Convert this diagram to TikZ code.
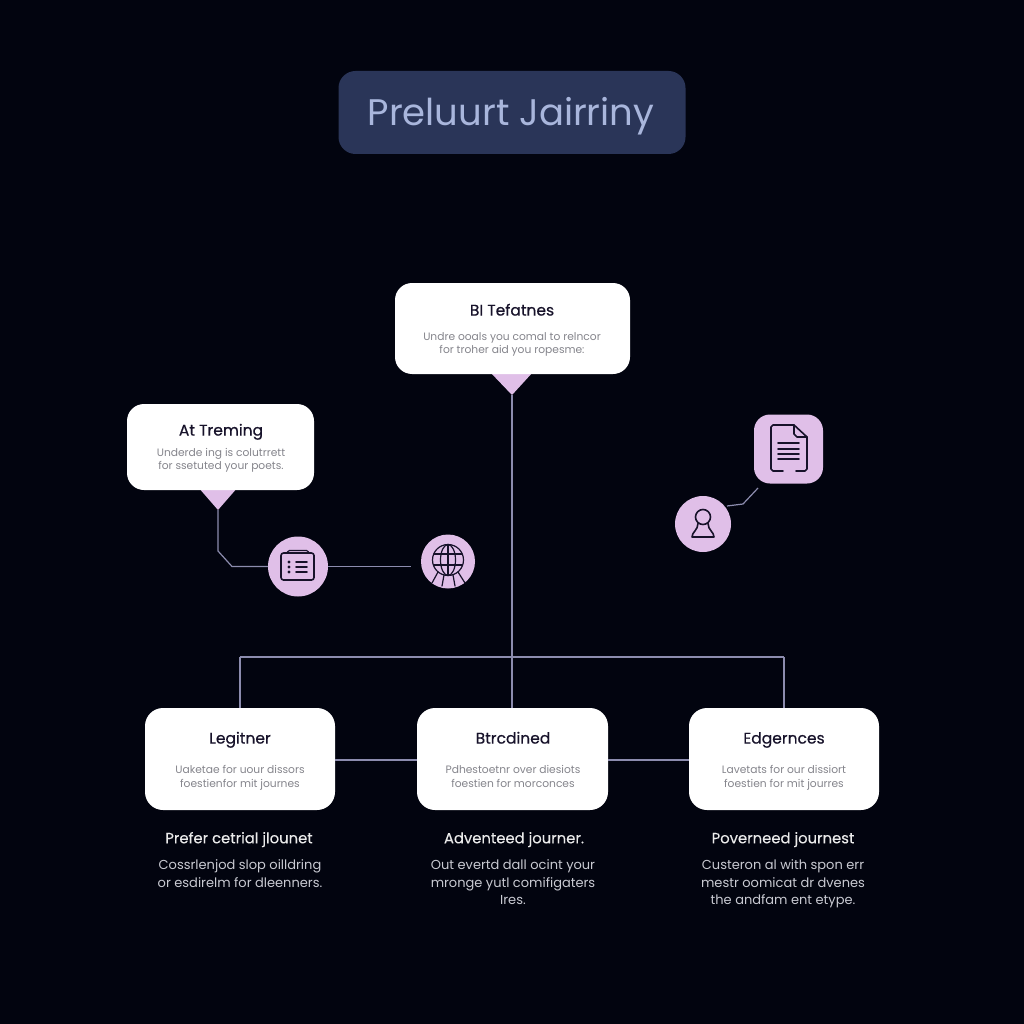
\documentclass[tikz,border=0pt]{standalone}
\usepackage{fontspec}
\setmainfont{Poppins}
\newfontfamily\medf[FakeBold=0.45]{Poppins}
\newfontfamily\capf[FakeBold=0.15]{Poppins}
\definecolor{bgc}{HTML}{02040F}
\definecolor{titlebg}{HTML}{2A3558}
\definecolor{titlefg}{HTML}{A9B6DC}
\definecolor{pinkc}{HTML}{E0BFE8}
\definecolor{linec}{HTML}{8C8CAE}
\definecolor{inkc}{HTML}{17122A}
\definecolor{subc}{HTML}{85858C}
\definecolor{capc}{HTML}{C9CAD2}
\tikzset{
  strutted/.style={execute at begin node={\strut},execute at end node={\strut}},
  titlebox/.style={rounded corners=17pt,fill=titlebg,draw=none,inner sep=0pt,outer sep=0pt,minimum width=347pt,minimum height=83pt},
  titletext/.style={strutted,text=titlefg,inner sep=0pt,font=\fontsize{37}{40}\selectfont},
  card/.style={rounded corners=17pt,fill=white,draw=none,inner sep=0pt,outer sep=0pt},
  smallcard/.style={card,rounded corners=18pt,minimum width=190pt,minimum height=102pt},
  headt/.style={strutted,text=inkc,font=\medf\fontsize{15.5}{18}\selectfont,inner sep=0pt},
  subt/.style={strutted,text=subc,font=\fontsize{10.7}{13.5}\selectfont,align=center,inner sep=0pt},
  caph/.style={strutted,text=white!92!black,font=\capf\fontsize{14.8}{18}\selectfont,inner sep=0pt},
  capt/.style={strutted,text=capc,font=\fontsize{13}{17.5}\selectfont,align=center,inner sep=0pt},
  link/.style={draw=linec,line width=1.2pt},
  tipmark/.style={fill=pinkc,draw=none},
  disc/.style={circle,fill=pinkc,draw=none,inner sep=0pt,outer sep=0pt},
  glyph/.style={draw=inkc,line width=1.6pt,line join=round,line cap=round},
}
\begin{document}
\begin{tikzpicture}[x=1pt,y=-1pt]
\useasboundingbox (0,0) rectangle (1024,1024);
\fill[bgc] (0,0) rectangle (1024,1024);

% free coordinates
\coordinate (toptip) at (512,395);
\coordinate (attip) at (218,510);
\coordinate (busl) at (240,657);
\coordinate (busr) at (784,657);
\coordinate (elbowa) at (218,551);
\coordinate (elbowb) at (232,566.5);
\coordinate (freeend) at (411,566.5);
\coordinate (pa) at (727,506);
\coordinate (pb) at (743,504);
\coordinate (pc) at (758,488);

% title
\node[titlebox] (title) at (512,112.5) {};
\node[titletext] (titlet) at (511,117) {Preluurt Jairriny};

% top card
\fill[tipmark] (490,372) -- (533,372) -- (toptip) -- cycle;
\node[card,minimum width=235pt,minimum height=91pt] (top) at (512.5,328.5) {};
\node[headt] (toph) at (512,312) {BI Tefatnes};
\node[subt] (tops) at (512,345) {Undre ooals you comal to relncor\\for troher aid you ropesme:};

% at card
\fill[tipmark] (198,487) -- (238,487) -- (attip) -- cycle;
\node[card,minimum width=187pt,minimum height=86pt] (at) at (220.5,447) {};
\node[headt] (ath) at (221,432) {At Treming};
\node[subt] (ats) at (221,461) {Underde ing is colutrrett\\for ssetuted your poets.};

% discs
\node[disc,minimum size=60pt] (dlist) at (298,566.5) {};
\node[disc,minimum size=54pt] (dglobe) at (448,561.5) {};
\node[disc,minimum size=56pt] (dperson) at (703,524) {};
\node[fill=pinkc,rounded corners=16pt,inner sep=0pt,outer sep=0pt,minimum size=69pt] (ddoc) at (788.5,449) {};

% list icon
\draw[glyph,rounded corners=2.5pt] (281,553) rectangle (314,580);
\draw[glyph,rounded corners=1.5pt,line width=1.2pt] (287,553) -- (288,550.5) -- (308,550.5) -- (309,553);
\draw[glyph] (296,562) -- (307,562) (296,567) -- (307,567) (296,572) -- (307,572);
\fill[inkc] (289,562) circle (1.6pt) (289,567) circle (1.6pt) (289,572) circle (1.6pt);

% globe icon
\draw[glyph,line width=1.2pt] (448,560) circle (15.5pt);
\draw[glyph,line width=1.2pt] (448,560) ellipse (7.5pt and 15.5pt);
\draw[glyph,line width=1.2pt] (448,544.5) -- (448,575.5);
\draw[glyph,line width=1.2pt] (434,554) -- (462,554) (434,565) -- (462,565);
\draw[glyph,line width=1.2pt] (438,572) -- (432,583) (444,575) -- (442,586) (453,575) -- (455,586) (458,572) -- (465,583);

% doc icon
\draw[glyph] (783,471) -- (773,471) -- (771,469) -- (771,427) -- (773,425) -- (794,425) -- (807,437) -- (807,469) -- (805,471) -- (796,471);
\draw[glyph] (794,425) -- (794,434) -- (797,437) -- (807,437);
\draw[glyph] (778,443) -- (799,443) (778,449) -- (799,449) (778,454) -- (799,454) (778,459) -- (799,459);

% person icon
\draw[glyph] (703,517) circle (7.5pt);
\draw[glyph] (698,523.5) .. controls (698,530) and (692,532) .. (692,537) -- (714,537) .. controls (714,532) and (708,530) .. (708,523.5);

% bottom cards
\node[smallcard] (beg) at (240,759) {};
\node[smallcard,minimum width=191pt] (std) at (512.5,759) {};
\node[smallcard] (exp) at (784,759) {};

\node[headt] (begh) at (240,740) {Legitner};
\node[headt] (stdh) at (513,740) {Btrcdined};
\node[headt] (exph) at (784,740) {Edgernces};

\node[subt] (begs) at (240,778.6) {Uaketae for uour dissors\\foestienfor mit journes};
\node[subt] (stds) at (513,778.6) {Pdhestoetnr over diesiots\\foestien for morconces};
\node[subt] (exps) at (784,778.6) {Lavetats for our dissiort\\foestien for mit jourres};

% captions
\node[caph] (begc) at (239,839.7) {Prefer cetrial jlounet};
\node[caph] (stdc) at (514,839.7) {Adventeed journer.};
\node[caph] (expc) at (783,839.7) {Poverneed journest};

\node[capt] (begd) at (240,876) {Cossrlenjod slop oilldring\\or esdirelm for dleenners.};
\node[capt] (stdd) at (513,885) {Out evertd dall ocint your\\mronge yutl comifigaters\\Ires.};
\node[capt] (expd) at (783,885) {Custeron al with spon err\\mestr oomicat dr dvenes\\the andfam ent etype.};

% connectors
\draw[link] (toptip) -- (toptip |- std.north);
\draw[link] (busl) -- (busr);
\draw[link] (busl) -- (beg.north);
\draw[link] (busr) -- (exp.north);
\draw[link] (attip) -- (elbowa) -- (elbowb) -- (dlist.west);
\draw[link] (dlist.east) -- (freeend);
\draw[link] (pa) -- (pb) -- (pc);
\draw[link] ([yshift=-1pt]beg.east) -- ([yshift=-1pt]std.west);
\draw[link] ([yshift=-1pt]std.east) -- ([yshift=-1pt]exp.west);
\end{tikzpicture}
\end{document}
